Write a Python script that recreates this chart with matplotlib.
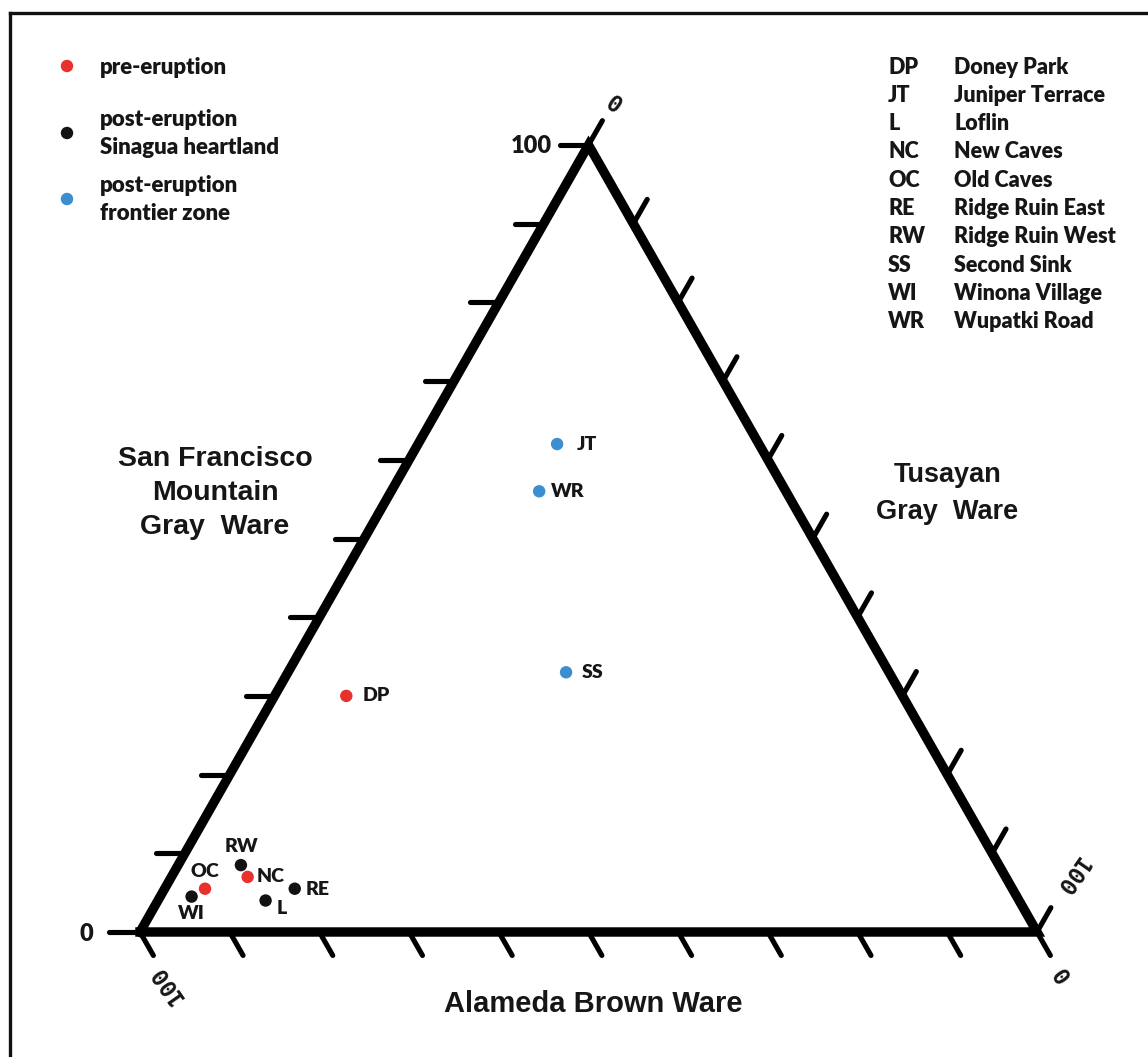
import numpy as np
import matplotlib
matplotlib.use("Agg")
import matplotlib.pyplot as plt
from matplotlib.lines import Line2D

# ---- data: ceramic ware composition (%) per site ----
site_codes = ["JT", "WR", "SS", "DP", "WI", "OC", "RW", "NC", "RE", "L"]
sfm_gray = [62.0, 56.0, 33.0, 30.0, 4.5, 5.5, 8.5, 7.0, 5.5, 4.0]      # San Francisco Mountain Gray Ware
tusayan_gray = [15.5, 16.5, 31.0, 8.0, 3.5, 4.5, 7.0, 8.5, 14.5, 12.0]  # Tusayan Gray Ware
alameda_brown = [22.5, 27.5, 36.0, 62.0, 92.0, 90.0, 84.5, 84.5, 80.0, 84.0]  # Alameda Brown Ware
site_group = ["frontier", "frontier", "frontier", "pre", "heart", "pre",
              "heart", "pre", "heart", "heart"]

group_labels = ["pre-eruption", "post-eruption\nSinagua heartland",
                "post-eruption\nfrontier zone"]
group_keys = ["pre", "heart", "frontier"]

key_codes = ["DP", "JT", "L", "NC", "OC", "RE", "RW", "SS", "WI", "WR"]
key_names = ["Doney Park", "Juniper Terrace", "Loflin", "New Caves", "Old Caves",
             "Ridge Ruin East", "Ridge Ruin West", "Second Sink",
             "Winona Village", "Wupatki Road"]

# ---- styling ----
colors = {"pre": "#E8302C", "heart": "#121212", "frontier": "#3B8ED0"}
label_offsets = {  # pixel offsets of site labels (dx, dy), ha, va
    "JT": ((20, 0), "left", "center"),
    "WR": ((12, 0), "left", "center"),
    "SS": ((16, 0), "left", "center"),
    "DP": ((16, 0), "left", "center"),
    "WI": ((0, -17), "center", "center"),
    "OC": ((0, 17), "center", "center"),
    "RW": ((1, 19), "center", "center"),
    "NC": ((9, 0), "left", "center"),
    "RE": ((11, -1), "left", "center"),
    "L": ((11, -8), "left", "center"),
}

W, H = 1148, 1057
X0, XS = 140.0, 897.0   # pixel x of the left vertex, base length
Y0, YS = 932.0, 787.0   # pixel y of the base, triangle height


def from_px(px, py):
    return ((px - X0) / XS, (Y0 - py) / YS)


def to_px(x, y):
    return (X0 + x * XS, Y0 - y * YS)


def tern_xy(sfm, tgw):
    # Tusayan at the lower right, SFM at the apex, Alameda at the lower left
    s = np.asarray(sfm) / 100.0
    t = np.asarray(tgw) / 100.0
    return t + s / 2.0, s


fig = plt.figure(figsize=(W / 100, H / 100), dpi=100)
ax = fig.add_axes([0, 0, 1, 1])
ax.set_xlim(-X0 / XS, (W - X0) / XS)
ax.set_ylim(-(H - Y0) / YS, Y0 / YS)
ax.axis("off")

# outer frame (left and top edges)
fig.add_artist(Line2D([10 / W, 10 / W], [0, 1 - 13 / H], transform=fig.transFigure,
                      color="#111111", lw=2.4))
fig.add_artist(Line2D([10 / W, 1], [1 - 13 / H, 1 - 13 / H], transform=fig.transFigure,
                      color="#111111", lw=2.4))

# triangle
tri = np.array([[0, 0], [1, 0], [0.5, 1], [0, 0]])
ax.plot(tri[:, 0], tri[:, 1], color="black", lw=6.8, solid_joinstyle="miter",
        solid_capstyle="projecting", zorder=2)


def tick(x, y, dx, dy, length):
    px, py = to_px(x, y)
    n = np.hypot(dx, dy)
    qx, qy = px + dx / n * length, py + dy / n * length
    x2, y2 = from_px(qx, qy)
    ax.plot([x, x2], [y, y2], color="black", lw=3.7, solid_capstyle="round", zorder=2)


steps = np.arange(11) / 10.0
for f in steps:
    # left axis (SFM): horizontal ticks
    tick(f / 2.0, f, -1, 0, 31 if f == 0 else 29)
    # bottom axis (Alameda): ticks parallel to the right edge
    tick(f, 0.0, 448.5, 787, 27)
    # right axis (Tusayan): ticks parallel to the left edge
    tick(0.5 + 0.5 * f, 1 - f, 449, -787, 28)

bold_font = ["Lato", "DejaVu Sans"]
arial = ["Liberation Sans", "DejaVu Sans"]
num_font = ["DejaVu Sans Mono", "DejaVu Sans"]
ink = "#161616"

ax.text(*from_px(531, 146), "100", fontsize=17, fontweight=800, family=bold_font,
        ha="center", va="center", color=ink)
ax.text(*from_px(86, 934), "0", fontsize=17, fontweight=800, family=bold_font,
        ha="center", va="center", color=ink)
rot_labels = [((613, 106), "0", -35), ((1070, 876), "100", -125),
              ((1062, 973), "0", 125), ((167, 984), "100", 125)]
for (px, py), s, r in rot_labels:
    ax.text(*from_px(px, py), s, fontsize=16.5, fontweight="bold", family=num_font,
            rotation=r, rotation_mode="anchor", ha="center", va="center", color=ink)

# axis titles
titles = [("San Francisco", (215, 459), 20.5), ("Mountain", (215, 493), 20.5),
          ("Gray  Ware", (215, 527), 20.5), ("Tusayan", (948, 475), 19.5),
          ("Gray  Ware", (947, 512), 19.5), ("Alameda Brown Ware", (593, 1004), 21)]
for txt, (px, py), fs in titles:
    ax.text(*from_px(px, py), txt, fontsize=fs, fontweight="bold", family=arial,
            ha="center", va="center", color=ink)

# data points
xs, ys = tern_xy(sfm_gray, tusayan_gray)
order = ["heart", "pre", "frontier"]
for g in order:
    idx = [i for i, k in enumerate(site_group) if k == g]
    ax.scatter(xs[idx], ys[idx], s=80, color=colors[g], edgecolors="none", zorder=4)
for i, code in enumerate(site_codes):
    (dx, dy), ha, va = label_offsets[code]
    ax.annotate(code, (xs[i], ys[i]), xytext=(dx, dy), textcoords="offset pixels",
                fontsize=14, fontweight=800, family=bold_font, ha=ha, va=va,
                color=ink, zorder=5)

# group key (upper left)
key_y = {"pre": 66, "heart": 133, "frontier": 199}
text_y = {"pre": [67], "heart": [119, 147], "frontier": [186, 213]}
for g, lab in zip(group_keys, group_labels):
    ax.scatter(*from_px(67, key_y[g]), s=80, color=colors[g], edgecolors="none")
    for line, ty in zip(lab.split("\n"), text_y[g]):
        ax.text(*from_px(100, ty), line, fontsize=16, fontweight=800,
                family=bold_font, ha="left", va="center", color=ink)

# site abbreviations (upper right)
for k, (c, n) in enumerate(zip(key_codes, key_names)):
    ty = 67 + k * 28.3
    ax.text(*from_px(888, ty), c, fontsize=15.5, fontweight=800, family=bold_font,
            ha="left", va="center", color=ink)
    ax.text(*from_px(954, ty), n, fontsize=15.5, fontweight=800, family=bold_font,
            ha="left", va="center", color=ink)

fig.savefig("out.png", dpi=100, facecolor="white")
